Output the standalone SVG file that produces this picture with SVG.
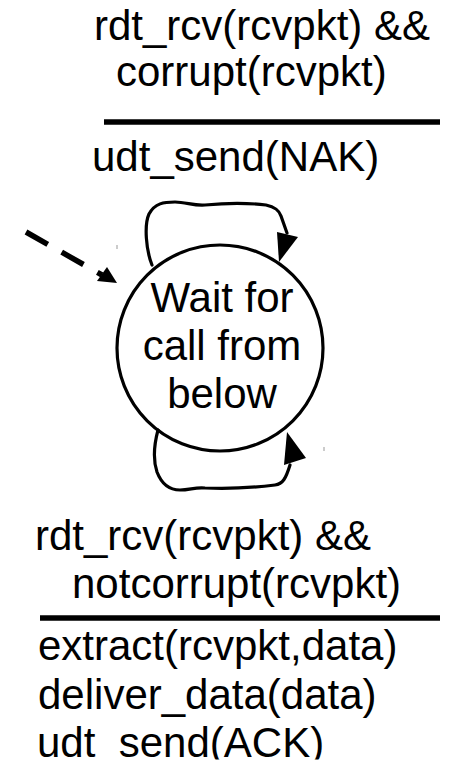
<svg xmlns="http://www.w3.org/2000/svg" width="449" height="765" viewBox="0 0 449 765">
<style>
text{font-family:"Liberation Sans",Arial,sans-serif;font-size:42px;fill:#000}
.c{text-anchor:middle}
.bar{stroke:#000;stroke-width:5.5}
.loop{fill:none;stroke:#000;stroke-width:3.2;stroke-linejoin:round;stroke-linecap:round}
.head{fill:#000}
.tick{stroke:#999;stroke-width:1}
</style>
<defs>
<clipPath id="clipBottom"><rect x="0" y="0" width="449" height="759.5"/></clipPath>
</defs>
<g id="state">
<circle cx="220" cy="348" r="103" fill="#fff" stroke="#000" stroke-width="3.2"/>
<text class="c" x="222" y="312">Wait for</text>
<text class="c" x="222" y="360">call from</text>
<text class="c" x="222" y="408">below</text>
</g>
<g id="label-top">
<text x="94" y="40">rdt_rcv(rcvpkt) &amp;&amp;</text>
<text x="116" y="86">corrupt(rcvpkt)</text>
<line class="bar" x1="104" y1="122" x2="440" y2="122"/>
<text x="92" y="171">udt_send(NAK)</text>
</g>
<g id="label-bottom">
<text x="35" y="550">rdt_rcv(rcvpkt) &amp;&amp;</text>
<text x="72" y="598">notcorrupt(rcvpkt)</text>
<line class="bar" x1="40" y1="618" x2="440" y2="618"/>
<text x="38" y="660">extract(rcvpkt,data)</text>
<text x="38" y="709">deliver_data(data)</text>
<text x="37" y="757" clip-path="url(#clipBottom)">udt_send(ACK)</text>
</g>
<g id="connectors">
<line x1="26" y1="232" x2="102" y2="275" stroke="#000" stroke-width="5.5" stroke-dasharray="25 16"/>
<polygon class="head" points="117,283 97,281 107,267"/>
<path class="loop" d="M152,265 C146,250 144,225 149,214 C155,203 164,202 175,202 C186,202 194,206 205,205 C225,203 250,203 266,205 C275,207 279,210 281,216 L287,233"/>
<polygon class="head" points="277,232 298,237 279,262"/>
<path class="loop" d="M158,430 C154,445 153,460 157,472 C162,485 170,490 180,490 C190,490 195,487 205,488 C225,489 250,488 275,485 C283,484 286,478 290,465"/>
<polygon class="head" points="284,465 306,458 287,432"/>
<line class="tick" x1="117" y1="245" x2="117" y2="249"/>
<line class="tick" x1="324" y1="447" x2="324" y2="451"/>
</g>
</svg>
